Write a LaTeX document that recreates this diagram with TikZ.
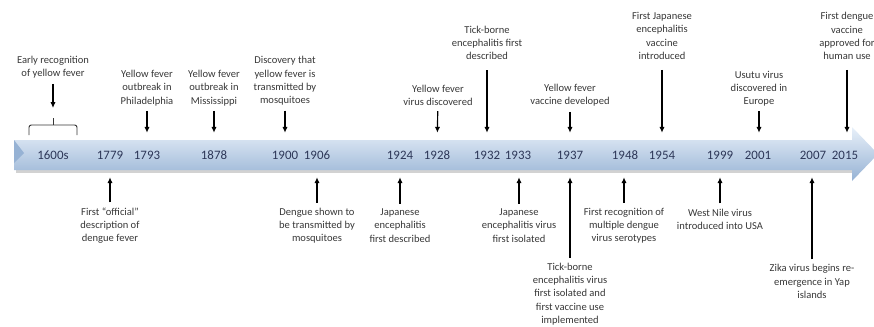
\documentclass[tikz,border=0pt]{standalone}
\usepackage{fontspec}
\setmainfont{Carlito}
\usetikzlibrary{arrows.meta}
\definecolor{txtgray}{RGB}{55,55,55}
\definecolor{yrblue}{RGB}{45,55,88}
\definecolor{bandtop}{RGB}{232,240,249}
\definecolor{bandmid}{RGB}{196,214,236}
\definecolor{bandbot}{RGB}{150,178,212}
\tikzset{
  note/.style={align=center, text=txtgray, font=\fontsize{9}{11.3}\selectfont, inner sep=1.5mm},
  yr/.style={text=yrblue, font=\fontsize{11}{13}\selectfont, minimum height=13.2mm, inner sep=0pt},
  evt/.style={->, line width=1pt},
}
\begin{document}
\begin{tikzpicture}[>={Latex[length=5pt,width=4.5pt]}, x=0.3mm, y=-0.3mm]
    \clip (0,0) rectangle (874,326);
    % the time band
    \fill[gray!35] (16,143) -- (852,143) -- (852,173) -- (16,173) -- cycle;
    \shade[top color=bandtop, middle color=bandmid, bottom color=bandbot]
        (14,140) -- (852,140) -- (852,127) -- (878,154) -- (852,181) -- (852,170) -- (14,170) -- cycle;
    \fill[bandbot] (14,140) -- (24,153) -- (14,163) -- cycle;
    % years
    \node[yr] (y1600) at (53,155) {1600s};
    \node[yr] (y1779) at (110,155) {1779};
    \node[yr] (y1793) at (147,155) {1793};
    \node[yr] (y1878) at (214,155) {1878};
    \node[yr] (y1900) at (285,155) {1900};
    \node[yr] (y1906) at (317,155) {1906};
    \node[yr] (y1924) at (400,155) {1924};
    \node[yr] (y1928) at (437,155) {1928};
    \node[yr] (y1932) at (487,155) {1932};
    \node[yr] (y1933) at (518,155) {1933};
    \node[yr] (y1937) at (570,155) {1937};
    \node[yr] (y1948) at (625,155) {1948};
    \node[yr] (y1954) at (662,155) {1954};
    \node[yr] (y1999) at (720,155) {1999};
    \node[yr] (y2001) at (758,155) {2001};
    \node[yr] (y2007) at (813,155) {2007};
    \node[yr] (y2015) at (845,155) {2015};
    % above the band
    \node[note] (a1600) at (53,67.5) {Early recognition\\of yellow fever};
    \node[note] (a1793) at (147,88) {Yellow fever\\outbreak in\\Philadelphia};
    \node[note] (a1878) at (214,88) {Yellow fever\\outbreak in\\Mississippi};
    \node[note] (a1900) at (285,81) {Discovery that\\yellow fever is\\transmitted by\\mosquitoes};
    \node[note] (a1928) at (438,95.5) {Yellow fever\\virus discovered};
    \node[note] (a1932) at (487,43) {Tick-borne\\encephalitis first\\described};
    \node[note] (a1937) at (570,95.5) {Yellow fever\\vaccine developed};
    \node[note] (a1954) at (662,36) {First Japanese\\encephalitis\\vaccine\\introduced};
    \node[note] (a2001) at (759,88.5) {Usutu virus\\discovered in\\Europe};
    \node[note] (a2015) at (847,36) {First dengue\\vaccine\\approved for\\human use};
    % below the band
    \node[note] (b1779) at (110,225.5) {First “official”\\description of\\dengue fever};
    \node[note] (b1906) at (317,225.5) {Dengue shown to\\be transmitted by\\mosquitoes};
    \node[note] (b1924) at (400,225.5) {Japanese\\encephalitis\\first described};
    \node[note] (b1933) at (519,225.5) {Japanese\\encephalitis virus\\first isolated};
    \node[note] (b1937) at (570,294) {Tick-borne\\encephalitis virus\\first isolated and\\first vaccine use\\implemented};
    \node[note] (b1948) at (624,225.5) {First recognition of\\multiple dengue\\virus serotypes};
    \node[note] (b1999) at (720,219) {West Nile virus\\introduced into USA};
    \node[note] (b2007) at (812,281.5) {Zika virus begins re-\\emergence in Yap\\islands};
    % bracket over 1600s
    \coordinate (brc) at (53,108);
    \draw[line width=.8pt, txtgray, rounded corners=2pt] (29,135) -- (29,125) -- (77,125) -- (77,135);
    \draw[line width=.8pt, txtgray] (53,125) -- (53,118);
    \draw[evt] (a1600) -- (brc);
    \draw[evt] (a1793) -- (y1793);
    \draw[evt] (a1878) -- (y1878);
    \draw[evt] (a1900) -- (y1900);
    \draw[evt] (a1928) -- (y1928);
    \draw[evt, shorten <=1.5mm] (a1932) -- (a1932 |- y1932.north);
    \draw[evt] (a1937) -- (y1937);
    \draw[evt, shorten <=1.5mm] (a1954) -- (y1954);
    \draw[evt] (a2001) -- (a2001 |- y2001.north);
    \draw[evt, shorten <=1.5mm] (a2015) -- (a2015 |- y2015.north);
    \draw[evt] (b1779) -- (y1779);
    \draw[evt] (b1906) -- (y1906);
    \draw[evt] (b1924) -- (y1924);
    \draw[evt] (b1933) -- (b1933 |- y1933.south);
    \draw[evt] (b1937) -- (y1937);
    \draw[evt] (b1948) -- (b1948 |- y1948.south);
    \draw[evt] (b1999) -- (b1999 |- y1999.south);
    \draw[evt] (b2007) -- (b2007 |- y2007.south);
\end{tikzpicture}
\end{document}
